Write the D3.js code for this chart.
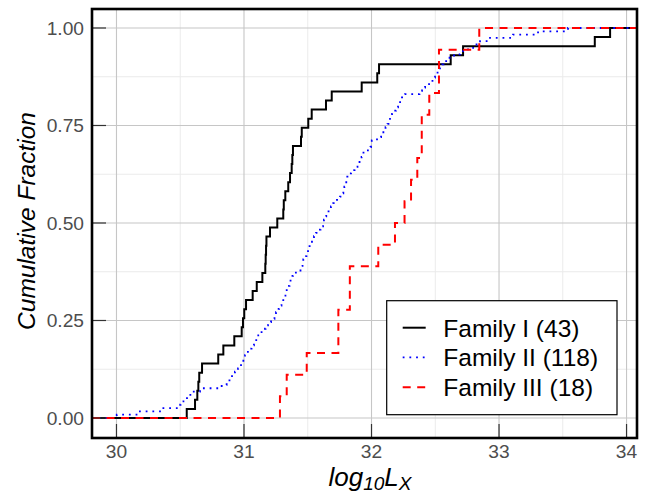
<!DOCTYPE html>
<html>
<head>
<meta charset="utf-8">
<script src="https://cdn.jsdelivr.net/npm/d3@7"></script>
<style>
  html, body { margin: 0; padding: 0; background: #ffffff; }
  svg { display: block; font-family: "Liberation Sans", Arial, sans-serif; }
</style>
</head>
<body>
<svg id="chart" width="649" height="494"></svg>
<script>
// log10 Lx values for each family (empirical CDF samples)
const familyI = [30.551, 30.616, 30.634, 30.642, 30.649, 30.671, 30.798, 30.838, 30.924, 30.982,
  30.992, 31.002, 31.016, 31.068, 31.100, 31.144, 31.167, 31.170, 31.173, 31.176,
  31.204, 31.261, 31.308, 31.312, 31.324, 31.347, 31.361, 31.374, 31.379, 31.384,
  31.447, 31.453, 31.504, 31.531, 31.643, 31.688, 31.923, 32.045, 32.059, 32.621,
  32.718, 33.751, 33.871];

const familyII = [30.002, 30.169, 30.341, 30.482, 30.502, 30.525, 30.553, 30.592, 30.655, 30.825,
  30.864, 30.886, 30.906, 30.929, 30.953, 30.969, 30.984, 30.995, 31.008, 31.021,
  31.039, 31.059, 31.078, 31.096, 31.112, 31.129, 31.151, 31.169, 31.188, 31.212,
  31.239, 31.251, 31.263, 31.275, 31.294, 31.308, 31.318, 31.325, 31.335, 31.345,
  31.357, 31.365, 31.373, 31.384, 31.443, 31.451, 31.459, 31.465, 31.478, 31.490,
  31.502, 31.514, 31.525, 31.533, 31.549, 31.565, 31.580, 31.600, 31.620, 31.627,
  31.635, 31.645, 31.663, 31.682, 31.700, 31.729, 31.753, 31.766, 31.779, 31.787,
  31.795, 31.802, 31.810, 31.824, 31.839, 31.867, 31.890, 31.906, 31.922, 31.929,
  31.937, 31.992, 31.996, 32.002, 32.043, 32.075, 32.093, 32.110, 32.125, 32.133,
  32.145, 32.161, 32.176, 32.192, 32.208, 32.224, 32.239, 32.263, 32.376, 32.396,
  32.420, 32.451, 32.478, 32.498, 32.518, 32.537, 32.553, 32.565, 32.612, 32.647,
  32.694, 32.757, 32.804, 32.851, 32.914, 33.110, 33.306, 33.541];

const familyIII = [31.282, 31.335, 31.492, 31.740, 31.740, 31.830, 31.830, 32.053, 32.184, 32.259,
  32.310, 32.359, 32.394, 32.394, 32.453, 32.529, 32.529, 32.845];

const seriesNames = ["Family I", "Family II", "Family III"];
const xTicks = [30, 31, 32, 33, 34];
const xMinor = [30.5, 31.5, 32.5, 33.5];
const yTicks = [0, 0.25, 0.5, 0.75, 1];
const yMinor = [0.125, 0.375, 0.625, 0.875];

const series = [
  { name: seriesNames[0], values: familyI,   color: "#000000", dash: null,      width: 2 },
  { name: seriesNames[1], values: familyII,  color: "#0000ff", dash: "1.8 4.9", width: 1.8 },
  { name: seriesNames[2], values: familyIII, color: "#ff0000", dash: "8 6.5",   width: 2 }
];

const svg = d3.select("#chart");
const panel = { left: 92, right: 637, top: 9, bottom: 438 };
const xLimits = [29.808, 34.082];
const yLimits = [-0.0513, 1.0487];

const x = d3.scaleLinear().domain(xLimits).range([panel.left, panel.right]);
const y = d3.scaleLinear().domain(yLimits).range([panel.bottom, panel.top]);

// panel background
svg.append("rect")
  .attr("x", panel.left).attr("y", panel.top)
  .attr("width", panel.right - panel.left).attr("height", panel.bottom - panel.top)
  .attr("fill", "#ffffff");

// grid lines
const grid = svg.append("g");
grid.selectAll(".vminor").data(xMinor).join("line")
  .attr("x1", d => x(d)).attr("x2", d => x(d))
  .attr("y1", panel.top).attr("y2", panel.bottom)
  .attr("stroke", "#ebebeb").attr("stroke-width", 1);
grid.selectAll(".hminor").data(yMinor).join("line")
  .attr("y1", d => y(d)).attr("y2", d => y(d))
  .attr("x1", panel.left).attr("x2", panel.right)
  .attr("stroke", "#ebebeb").attr("stroke-width", 1);
grid.selectAll(".vmajor").data(xTicks).join("line")
  .attr("x1", d => x(d)).attr("x2", d => x(d))
  .attr("y1", panel.top).attr("y2", panel.bottom)
  .attr("stroke", "#c6c6c6").attr("stroke-width", 1.1);
grid.selectAll(".hmajor").data(yTicks).join("line")
  .attr("y1", d => y(d)).attr("y2", d => y(d))
  .attr("x1", panel.left).attr("x2", panel.right)
  .attr("stroke", "#c6c6c6").attr("stroke-width", 1.1);

// ECDF step lines, padded out to the panel edges
const clipId = "panel-clip";
svg.append("clipPath").attr("id", clipId).append("rect")
  .attr("x", panel.left).attr("y", panel.top)
  .attr("width", panel.right - panel.left).attr("height", panel.bottom - panel.top);

const line = d3.line()
  .x(d => x(d[0])).y(d => y(d[1]))
  .curve(d3.curveStepAfter);

function ecdfPoints(values) {
  const sorted = values.slice().sort(d3.ascending);
  const n = sorted.length;
  const pts = [[xLimits[0], 0]];
  sorted.forEach((v, i) => pts.push([v, (i + 1) / n]));
  pts.push([xLimits[1], 1]);
  return pts;
}

const lines = svg.append("g").attr("clip-path", `url(#${clipId})`);
series.forEach(s => {
  lines.append("path")
    .datum(ecdfPoints(s.values))
    .attr("d", line)
    .attr("fill", "none")
    .attr("stroke", s.color)
    .attr("stroke-width", s.width)
    .attr("stroke-dasharray", s.dash)
    .attr("stroke-linejoin", "miter");
});

// inward tick marks
const ticks = svg.append("g");
ticks.selectAll(".xt").data(xTicks).join("line")
  .attr("x1", d => x(d)).attr("x2", d => x(d))
  .attr("y1", panel.bottom - 14).attr("y2", panel.bottom)
  .attr("stroke", "#333333").attr("stroke-width", 1.2);
ticks.selectAll(".yt").data(yTicks).join("line")
  .attr("y1", d => y(d)).attr("y2", d => y(d))
  .attr("x1", panel.left).attr("x2", panel.left + 14)
  .attr("stroke", "#333333").attr("stroke-width", 1.2);

// panel border
svg.append("rect")
  .attr("x", panel.left).attr("y", panel.top)
  .attr("width", panel.right - panel.left).attr("height", panel.bottom - panel.top)
  .attr("fill", "none").attr("stroke", "#000000").attr("stroke-width", 2.6);

// tick labels
svg.append("g").selectAll("text").data(yTicks).join("text")
  .attr("x", 84).attr("y", d => y(d))
  .attr("dy", "0.36em")
  .attr("text-anchor", "end")
  .attr("font-size", 19.2).attr("fill", "#4d4d4d")
  .text(d => d3.format(".2f")(d));

svg.append("g").selectAll("text").data(xTicks).join("text")
  .attr("x", d => x(d)).attr("y", 458)
  .attr("text-anchor", "middle")
  .attr("font-size", 19.2).attr("fill", "#4d4d4d")
  .text(d => d);

// axis titles
svg.append("text")
  .attr("transform", "translate(35,221) rotate(-90)")
  .attr("text-anchor", "middle")
  .attr("font-size", 24.5).attr("font-style", "italic").attr("fill", "#000000")
  .text("Cumulative Fraction");

const xt = svg.append("text")
  .attr("x", 370).attr("y", 486)
  .attr("text-anchor", "middle")
  .attr("font-style", "italic").attr("fill", "#000000");
xt.append("tspan").attr("font-size", 26).text("log");
xt.append("tspan").attr("font-size", 19).attr("dy", 3.5).text("10");
xt.append("tspan").attr("font-size", 26).attr("dy", -3.5).text("L");
xt.append("tspan").attr("font-size", 19).attr("dy", 3.5).text("X");

// legend
const legend = svg.append("g");
legend.append("rect")
  .attr("x", 386.7).attr("y", 300.7).attr("width", 230.3).attr("height", 114)
  .attr("fill", "#ffffff").attr("stroke", "#000000").attr("stroke-width", 1.2);

const rowY = d3.scalePoint().domain(seriesNames).range([327.7, 387.2]);
series.forEach(s => {
  const cy = rowY(s.name);
  legend.append("line")
    .attr("x1", 402.7).attr("x2", 425.7)
    .attr("y1", cy).attr("y2", cy)
    .attr("stroke", s.color).attr("stroke-width", s.width)
    .attr("stroke-dasharray", s.dash);
  legend.append("text")
    .attr("x", 443.3).attr("y", cy).attr("dy", "0.36em")
    .attr("font-size", 24.5).attr("fill", "#000000")
    .text(`${s.name} (${s.values.length})`);
});
</script>
</body>
</html>
